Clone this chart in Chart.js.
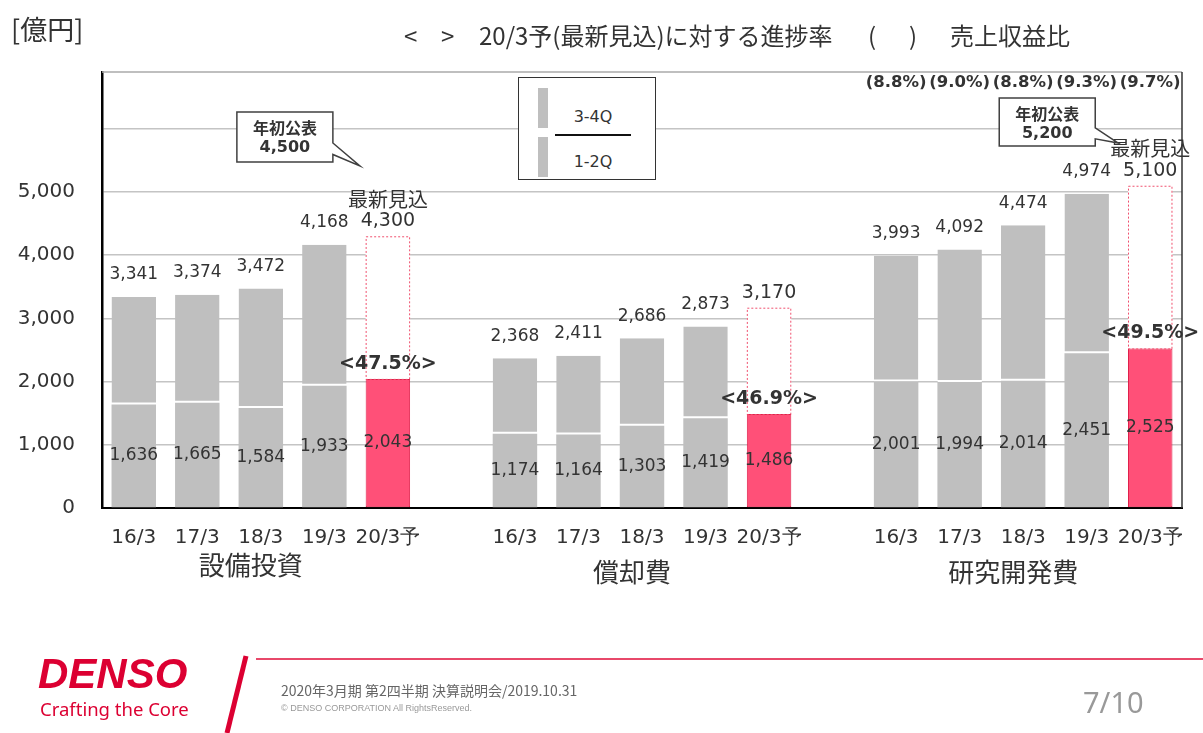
<!DOCTYPE html>
<html lang="ja">
<head>
<meta charset="utf-8">
<title>設備投資・償却費・研究開発費</title>
<script src="https://cdn.jsdelivr.net/npm/chart.js@4.4.1/dist/chart.umd.min.js"></script>
<style>
  html, body { margin: 0; padding: 0; background: #fff; }
  #page { position: relative; width: 1203px; height: 733px; overflow: hidden;
          font-family: "Noto Sans CJK JP", "Noto Sans", sans-serif; color: #333; }
  #chart { position: absolute; left: 0; top: 0; }
  .txt { position: absolute; white-space: pre; line-height: 1; }
  #legendBox { position: absolute; left: 518px; top: 77px; width: 136px; height: 101px;
               border: 1.5px solid #333; background: #fff; }
  #legendBox .bar { position: absolute; left: 19px; width: 10px; background: #bfbfbf; }
  #legendBox .rule { position: absolute; left: 36px; top: 56px; width: 76px; height: 2px; background: #111; }
  #legendBox .lbl { position: absolute; left: 36px; width: 76px; text-align: center;
                    font: 16px "DejaVu Sans", sans-serif; color: #333; }
</style>
</head>
<body>
<div id="page">
  <canvas id="chart" width="1203" height="733"></canvas>

  <div class="txt" style="left:11px; top:15px; font-size:27px;">[億円]</div>
  <div class="txt" style="left:404px; top:23px; font-size:24px;">&lt;</div>
  <div class="txt" style="left:441px; top:23px; font-size:24px;">&gt;</div>
  <div class="txt" style="left:479px; top:23px; font-size:24px;">20/3予(最新見込)に対する進捗率</div>
  <div class="txt" style="left:868px; top:23px; font-size:24px;">(</div>
  <div class="txt" style="left:909px; top:23px; font-size:24px;">)</div>
  <div class="txt" style="left:950px; top:23px; font-size:24px;">売上収益比</div>

  <div id="legendBox">
    <div class="bar" style="top:10px; height:40px;"></div>
    <div class="bar" style="top:59px; height:40px;"></div>
    <div class="rule"></div>
    <div class="lbl" style="top:29px;">3-4Q</div>
    <div class="lbl" style="top:74px;">1-2Q</div>
  </div>

  <div class="txt" style="left:38px; top:650px; font:italic bold 42px 'Liberation Sans', sans-serif; color:#dc0032;">DENSO</div>
  <div class="txt" style="left:40px; top:696px; font:18.5px 'Noto Sans', sans-serif; color:#dc0032;">Crafting the Core</div>
  <svg style="position:absolute; left:215px; top:652px;" width="40" height="81">
    <line x1="31" y1="4" x2="12" y2="81" stroke="#dc0032" stroke-width="5"/>
  </svg>
  <div style="position:absolute; left:256px; top:658px; width:947px; height:2px; background:#e8486a;"></div>
  <div class="txt" style="left:281px; top:683px; font-size:14px; color:#666;">2020年3月期 第2四半期 決算説明会/2019.10.31</div>
  <div class="txt" style="left:281px; top:703px; font:9px 'Liberation Sans', sans-serif; color:#999;">© DENSO CORPORATION All RightsReserved.</div>
  <div class="txt" style="left:1083px; top:682px; font:29px 'Noto Sans', sans-serif; color:#999;">7/10</div>
</div>

<script>
const groups = ["設備投資", "償却費", "研究開発費"];
const years = ["16/3", "17/3", "18/3", "19/3", "20/3予"];

const capexTotal = [3341, 3374, 3472, 4168, 4300];
const capexH1 = [1636, 1665, 1584, 1933, 2043];
const deprTotal = [2368, 2411, 2686, 2873, 3170];
const deprH1 = [1174, 1164, 1303, 1419, 1486];
const rndTotal = [3993, 4092, 4474, 4974, 5100];
const rndH1 = [2001, 1994, 2014, 2451, 2525];

const progress = [47.5, 46.9, 49.5];
const initialPlan = [4500, null, 5200];
const salesRatio = [8.8, 9.0, 8.8, 9.3, 9.7];
const yTicks = [0, 1000, 2000, 3000, 4000, 5000, 6000];

const GRAY = "#bfbfbf";
const PINK = "#ff5078";
const PINK_EDGE = "#e0204a";
const TEXT = "#333";

// one empty slot between the groups
const totals = [capexTotal, deprTotal, rndTotal];
const halves = [capexH1, deprH1, rndH1];
const labels = [], h1 = [], h2 = [], total = [], isPlan = [];
groups.forEach((g, gi) => {
  if (gi > 0) {
    labels.push(""); h1.push(null); h2.push(null); total.push(null); isPlan.push(false);
  }
  years.forEach((y, yi) => {
    labels.push(y);
    h1.push(halves[gi][yi]);
    h2.push(totals[gi][yi] - halves[gi][yi]);
    total.push(totals[gi][yi]);
    isPlan.push(yi === years.length - 1);
  });
});
const slot = (gi, yi) => gi * (years.length + 1) + yi;
const fmt = (v) => v.toLocaleString("en-US");

const frame = {
  id: "frame",
  afterDraw(chart) {
    const { ctx, chartArea: a } = chart;
    ctx.save();
    ctx.strokeStyle = "#aaa";
    ctx.lineWidth = 1.5;
    ctx.beginPath();
    ctx.moveTo(a.left, a.top);
    ctx.lineTo(a.right, a.top);
    ctx.stroke();
    ctx.strokeStyle = "#333";
    ctx.beginPath();
    ctx.moveTo(a.right, a.top);
    ctx.lineTo(a.right, a.bottom);
    ctx.stroke();
    ctx.restore();
  },
};

const barLabels = {
  id: "barLabels",
  afterDraw(chart, args, opts) {
    const { ctx } = chart;
    const low = chart.getDatasetMeta(0).data;
    const up = chart.getDatasetMeta(1).data;
    ctx.save();
    ctx.textAlign = "center";
    ctx.textBaseline = "middle";
    ctx.fillStyle = TEXT;

    total.forEach((t, i) => {
      if (t == null) return;
      const top = up[i], bot = low[i];
      const gi = Math.floor(i / (years.length + 1));
      ctx.font = "17px 'DejaVu Sans'";
      ctx.fillText(fmt(h1[i]), bot.x, (bot.y + bot.base) / 2);
      if (!isPlan[i]) {
        ctx.fillText(fmt(t), top.x, top.y - 22);
        return;
      }
      ctx.save();
      ctx.strokeStyle = "#f0506e";
      ctx.lineWidth = 1;
      ctx.setLineDash([2, 2]);
      ctx.strokeRect(top.x - top.width / 2 + 0.5, top.y + 0.5, top.width - 1, top.base - top.y);
      ctx.restore();
      ctx.font = "19px 'DejaVu Sans'";
      ctx.fillText(fmt(t), top.x, top.y - 15);
      if (initialPlan[gi] != null) {
        ctx.font = "20px 'Noto Sans CJK JP'";
        ctx.fillText("最新見込", top.x, top.y - 37);
      }
      ctx.font = "bold 19px 'DejaVu Sans'";
      ctx.fillText("<" + progress[gi].toFixed(1) + "%>", bot.x, bot.y - 15);
    });

    // sales ratio row above the R&D bars
    ctx.font = "bold 16.5px 'DejaVu Sans'";
    salesRatio.forEach((r, yi) => {
      ctx.fillText("(" + r.toFixed(1) + "%)", up[slot(2, yi)].x, 83);
    });

    // group names
    ctx.font = "26px 'Noto Sans CJK JP'";
    groups.forEach((g, gi) => {
      ctx.fillText(g, up[slot(gi, 2)].x - 10, opts.groupY[gi]);
    });

    // initial plan callouts
    opts.callouts.forEach((c) => {
      const value = initialPlan[c.group];
      if (value == null) return;
      const x = up[slot(c.group, years.length - 1)].x;
      const L = x - 151, R = x - 55, T = c.top, B = c.bottom, h = B - T;
      ctx.beginPath();
      ctx.moveTo(L, T);
      ctx.lineTo(R, T);
      ctx.lineTo(R, T + h * 0.62);
      ctx.lineTo(x + c.tipDx, c.tipY);
      ctx.lineTo(R, T + h * 0.85);
      ctx.lineTo(R, B);
      ctx.lineTo(L, B);
      ctx.closePath();
      ctx.fillStyle = "#fff";
      ctx.fill();
      ctx.strokeStyle = "#404040";
      ctx.lineWidth = 1.5;
      ctx.stroke();
      ctx.fillStyle = TEXT;
      ctx.font = "bold 16px 'Noto Sans CJK JP'";
      ctx.fillText("年初公表", (L + R) / 2, T + 16);
      ctx.font = "bold 16px 'DejaVu Sans'";
      ctx.fillText(fmt(value), (L + R) / 2, T + 36);
    });
    ctx.restore();
  },
};

new Chart(document.getElementById("chart"), {
  type: "bar",
  data: {
    labels: labels,
    datasets: [
      {
        label: "1-2Q",
        data: h1,
        stack: "s",
        backgroundColor: (c) => (isPlan[c.dataIndex] ? PINK : GRAY),
        borderColor: (c) => (isPlan[c.dataIndex] ? PINK_EDGE : GRAY),
        borderWidth: (c) => (isPlan[c.dataIndex] ? 1 : 0),
        borderSkipped: false,
      },
      {
        label: "3-4Q",
        data: h2,
        stack: "s",
        backgroundColor: (c) => (isPlan[c.dataIndex] ? "#fff" : GRAY),
        borderColor: "#fff",
        borderWidth: (c) =>
          isPlan[c.dataIndex] ? 0 : { top: 0, left: 0, right: 0, bottom: 2 },
        borderSkipped: false,
      },
    ],
  },
  options: {
    responsive: false,
    animation: false,
    events: [],
    layout: { padding: { left: 10, right: 21, top: 72, bottom: 0 } },
    datasets: { bar: { barPercentage: 0.7, categoryPercentage: 1 } },
    scales: {
      x: {
        stacked: true,
        grid: { display: false },
        border: { display: true, color: "#000", width: 2 },
        ticks: {
          color: TEXT,
          padding: 10,
          maxRotation: 0,
          autoSkip: false,
          font: { family: "DejaVu Sans", size: 20 },
        },
        afterFit: (s) => { s.height = 225; },
      },
      y: {
        stacked: true,
        min: 0,
        max: 6900,
        afterBuildTicks: (s) => { s.ticks = yTicks.map((v) => ({ value: v })); },
        grid: { color: "#c4c4c4", lineWidth: 1.5, drawTicks: false },
        border: { display: true, color: "#000", width: 2.5 },
        ticks: {
          color: TEXT,
          padding: 27,
          font: { family: "DejaVu Sans", size: 20 },
          callback: (v) => (v > 5000 ? "" : fmt(v)),
        },
        afterFit: (s) => { s.width = 92; },
      },
    },
    plugins: {
      legend: { display: false },
      tooltip: { enabled: false },
      barLabels: {
        groupY: [565, 572, 572],
        callouts: [
          { group: 0, top: 112, bottom: 162, tipY: 166, tipDx: -28 },
          { group: 2, top: 98, bottom: 146, tipY: 143, tipDx: -32 },
        ],
      },
    },
  },
  plugins: [frame, barLabels],
});
</script>
</body>
</html>
